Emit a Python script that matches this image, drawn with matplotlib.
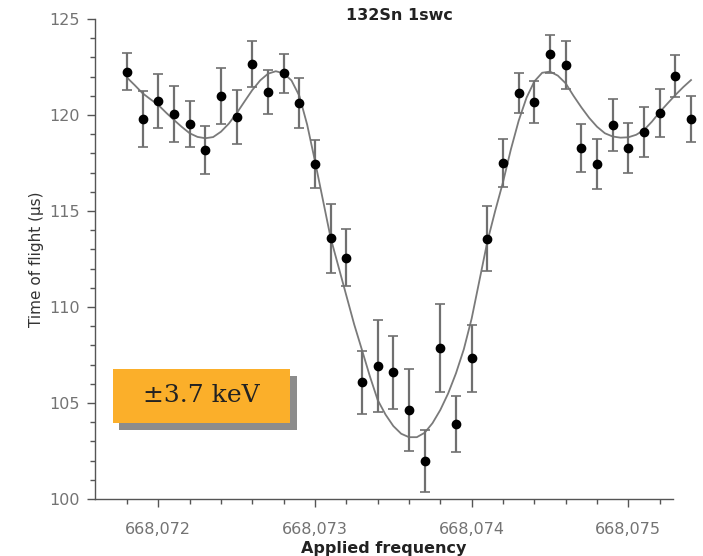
import numpy as np
import matplotlib
matplotlib.use("Agg")
import matplotlib.pyplot as plt
from matplotlib.ticker import FixedLocator, FuncFormatter
from matplotlib.patches import Rectangle

# measured points: applied frequency, time of flight, error
freq = [668.0718, 668.0719, 668.0720, 668.0721, 668.0722, 668.0723, 668.0724,
        668.0725, 668.0726, 668.0727, 668.0728, 668.0729, 668.0730, 668.0731,
        668.0732, 668.0733, 668.0734, 668.0735, 668.0736, 668.0737, 668.0738,
        668.0739, 668.0740, 668.0741, 668.0742, 668.0743, 668.0744, 668.0745,
        668.0746, 668.0747, 668.0748, 668.0749, 668.0750, 668.0751, 668.0752,
        668.0753, 668.0754]
tof = [122.26, 119.79, 120.74, 120.05, 119.52, 118.19, 120.99,
       119.90, 122.64, 121.21, 122.17, 120.64, 117.45, 113.58,
       112.57, 106.08, 106.93, 106.60, 104.64, 101.98, 107.88,
       103.90, 107.33, 113.56, 117.52, 121.13, 120.68, 123.18,
       122.60, 118.30, 117.46, 119.48, 118.30, 119.13, 120.09,
       122.05, 119.79]
tof_err = [0.95, 1.45, 1.40, 1.45, 1.20, 1.25, 1.45,
           1.40, 1.20, 1.15, 1.00, 1.30, 1.25, 1.80,
           1.50, 1.65, 2.40, 1.90, 2.15, 1.60, 2.30,
           1.45, 1.75, 1.70, 1.25, 1.05, 1.10, 1.00,
           1.25, 1.25, 1.30, 1.33, 1.30, 1.30, 1.25,
           1.10, 1.20]

# fitted resonance line
fit_freq = [668.07180, 668.07185, 668.07190, 668.07195, 668.07200, 668.07205,
            668.07210, 668.07215, 668.07220, 668.07225, 668.07230, 668.07235,
            668.07240, 668.07245, 668.07250, 668.07255, 668.07260, 668.07265,
            668.07270, 668.07275, 668.07280, 668.07285, 668.07290, 668.07295,
            668.07300, 668.07305, 668.07310, 668.07315, 668.07320, 668.07325,
            668.07330, 668.07335, 668.07340, 668.07345, 668.07350, 668.07355,
            668.07360, 668.07365, 668.07370, 668.07375, 668.07380, 668.07385,
            668.07390, 668.07395, 668.07400, 668.07405, 668.07410, 668.07415,
            668.07420, 668.07425, 668.07430, 668.07435, 668.07440, 668.07445,
            668.07450, 668.07455, 668.07460, 668.07465, 668.07470, 668.07475,
            668.07480, 668.07485, 668.07490, 668.07495, 668.07500, 668.07505,
            668.07510, 668.07515, 668.07520, 668.07525, 668.07530, 668.07535,
            668.07540]
fit_tof = [121.95, 121.55, 121.13, 120.82, 120.52, 120.12,
           119.74, 119.38, 119.05, 118.86, 118.79, 118.85,
           119.13, 119.55, 120.09, 120.70, 121.30, 121.80,
           122.15, 122.28, 122.17, 121.80, 121.00, 119.50,
           117.60, 115.60, 113.60, 112.10, 110.60, 109.10,
           107.76, 106.40, 105.16, 104.40, 103.80, 103.40,
           103.22, 103.22, 103.45, 103.95, 104.64, 105.50,
           106.55, 107.80, 109.40, 111.40, 113.40, 115.00,
           116.50, 118.20, 119.70, 120.90, 121.75, 122.20,
           122.26, 122.05, 121.65, 121.00, 120.40, 119.85,
           119.39, 119.05, 118.88, 118.82, 118.84, 118.97,
           119.22, 119.65, 120.15, 120.60, 121.04, 121.45,
           121.82]

title = "132Sn 1swc"
box_label = "\u00b13.7 keV"

W, H = 703, 556
fig = plt.figure(figsize=(W / 100, H / 100), dpi=100)
fig.patch.set_facecolor("white")

def fx(px):
    return px / W

def fy(py):
    return 1 - py / H

ax = fig.add_axes([fx(95), fy(499), fx(673) - fx(95), fy(19) - fy(499)])

ax.plot(fit_freq, fit_tof, color="#7a7a7a", lw=1.3, clip_on=False, zorder=2)
ax.errorbar(freq, tof, yerr=tof_err, fmt="o", color="black", ms=6,
            ecolor="#707070", elinewidth=1.6, capsize=3.3, capthick=1.2,
            clip_on=False, zorder=3)

ax.set_xlim(668.071596, 668.075285)
ax.set_ylim(100, 125)

for s in ("top", "right"):
    ax.spines[s].set_visible(False)
for s in ("left", "bottom"):
    ax.spines[s].set_color("#555555")
    ax.spines[s].set_linewidth(1.0)

ax.xaxis.set_major_locator(FixedLocator([668.072, 668.073, 668.074, 668.075]))
ax.xaxis.set_minor_locator(FixedLocator(668.0718 + 0.0002 * np.arange(18)))
ax.xaxis.set_major_formatter(FuncFormatter(lambda v, p: f"{v:.3f}".replace(".", ",")))
ax.yaxis.set_major_locator(FixedLocator(np.arange(100, 126, 5)))
ax.yaxis.set_minor_locator(FixedLocator(np.arange(100, 126, 1)))

ax.tick_params(which="major", length=6, width=1.0, color="#555555",
               labelcolor="#737373", labelsize=11.5, pad=5)
ax.tick_params(axis="x", which="major", pad=10.5)
ax.tick_params(which="minor", length=3.5, width=1.0, color="#555555")

ax.set_ylabel("Time of flight (\u00b5s)", fontsize=11, color="#333333", labelpad=4)
ax.set_xlabel("Applied frequency", fontsize=11.5, fontweight="bold",
              color="#222222", labelpad=3)
fig.text(fx(399), fy(16), title, ha="center", va="center", fontsize=11.5,
         fontweight="bold", color="#222222")

# orange label box with a drop shadow
fig.patches.append(Rectangle((fx(119), fy(430)), fx(297) - fx(119), fy(376) - fy(430),
                             transform=fig.transFigure, facecolor="#8c8c8c",
                             edgecolor="none", zorder=5))
fig.patches.append(Rectangle((fx(113), fy(423)), fx(290) - fx(113), fy(369) - fy(423),
                             transform=fig.transFigure, facecolor="#fbaf2a",
                             edgecolor="none", zorder=6))
fig.text(fx(201), fy(396), box_label, ha="center", va="center", fontsize=18,
         family="DejaVu Serif", color="#222222", zorder=7)

fig.savefig("out.png", dpi=100)
